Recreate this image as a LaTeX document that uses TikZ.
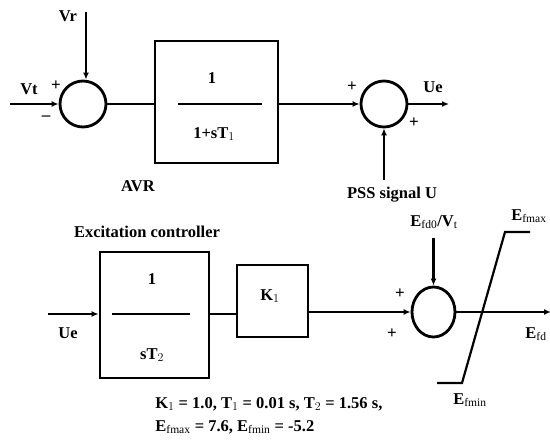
\documentclass[tikz,border=0pt]{standalone}
\usepackage{fontspec}
\setmainfont{Liberation Serif}
\usetikzlibrary{arrows.meta,shapes.geometric}
\begin{document}
\begin{tikzpicture}[x=1pt,y=-1pt,
  line width=2.8pt,
  lbl/.style={font=\fontsize{16.5}{18}\selectfont\bfseries, inner sep=0pt},
  sgn/.style={font=\fontsize{17}{18}\selectfont\bfseries, inner sep=0pt},
  sumc/.style={draw, circle, minimum size=46pt, inner sep=0pt},
  blk/.style={draw, rectangle, inner sep=0pt},
  arr/.style={-{Latex[length=7pt,width=6pt]}},
  every node/.style={inner sep=0pt}]
\useasboundingbox (0,0) rectangle (550,441);
% ---------- top row ----------
\node[sumc] (s1) at (83,104) {};
\coordinate (vtin) at (10,104);
\coordinate (vrin) at (86,12);
\draw[arr] (vtin) -- (s1.west);
\draw[arr] (vrin) -- (vrin |- s1.north);
\node[lbl] (lvr) at (68,16) {Vr};
\node[lbl] (lvt) at (29,89) {Vt};
\node[sgn] (p1) at (56,86) {+};
\node[sgn] (m1) at (46,118) {\textendash};
\node[blk, minimum width=123pt, minimum height=122pt] (avr) at (216.5,102) {};
\node[lbl] (avrn) at (212,78) {1};
\node[lbl] (avrd) at (214,134) {1+sT$_1$};
\coordinate (avrb1) at (178,104);
\coordinate (avrb2) at (262,104);
\draw (avrb1) -- (avrb2);
\draw (s1.east) -- (avr.west |- s1.east);
\node[lbl] (lavr) at (138,186) {AVR};
\node[sumc] (s2) at (384,104) {};
\draw[arr] (avr.east |- s2.west) -- (s2.west);
\coordinate (ueout) at (449,104);
\draw[arr] (s2.east) -- (ueout);
\node[lbl] (lue1) at (433,87) {Ue};
\node[sgn] (p2) at (352,87) {+};
\node[sgn] (p3) at (414,123) {+};
\coordinate (pssin) at (384,180);
\draw[arr] (pssin) -- (s2.south);
\node[lbl] (lpss) at (392,195) {PSS signal U};
% ---------- bottom row ----------
\node[lbl] (lexc) at (147,232) {Excitation controller};
\node[blk, minimum width=109pt, minimum height=126pt] (int) at (154.5,315) {};
\node[lbl] (intn) at (152,279) {1};
\node[lbl] (intd) at (152,355) {sT$_2$};
\coordinate (intb1) at (112,314);
\coordinate (intb2) at (190,314);
\draw (intb1) -- (intb2);
\coordinate (uein) at (48,314);
\draw[arr] (uein) -- (int.west |- uein);
\node[lbl] (lue2) at (68,333) {Ue};
\node[blk, minimum width=71pt, minimum height=72pt] (kb) at (272.5,301) {};
\node[lbl] (lk) at (270,296) {K$_1$};
\draw (int.east |- intb1) -- (kb.west |- intb1);
\node[draw, ellipse, minimum width=43pt, minimum height=50pt] (s3) at (433.5,312) {};
\draw[arr] (kb.east |- s3.west) -- (s3.west);
\coordinate (efdin) at (433.5,238);
\draw[arr] (efdin) -- (s3.north);
\node[lbl] (lefd) at (434,222) {E$_{\mathrm{fd0}}$/V$_{\mathrm{t}}$};
\node[sgn] (p4) at (400,294) {+};
\node[sgn] (p5) at (392,334) {+};
\coordinate (efdout) at (551,312);
\draw[arr] (s3.east) -- (efdout);
\node[lbl, anchor=east] (lefdo) at (548,334) {E$_{\mathrm{fd}}$};
% limiter
\coordinate (l1) at (437,383);
\coordinate (l2) at (462,383);
\coordinate (l3) at (505,232);
\coordinate (l4) at (530,232);
\draw[line width=2.2pt] (l1) -- (l2) -- (l3) -- (l4);
\node[lbl, anchor=east] (lmax) at (548,216) {E$_{\mathrm{fmax}}$};
\node[lbl] (lmin) at (470,400) {E$_{\mathrm{fmin}}$};
% parameters
\node[lbl, anchor=west] (par1) at (154,404) {K$_1$ = 1.0, T$_1$ = 0.01 s, T$_2$ = 1.56 s,};
\node[lbl, anchor=west] (par2) at (154,427) {E$_{\mathrm{fmax}}$ = 7.6, E$_{\mathrm{fmin}}$ = -5.2};
\end{tikzpicture}
\end{document}
